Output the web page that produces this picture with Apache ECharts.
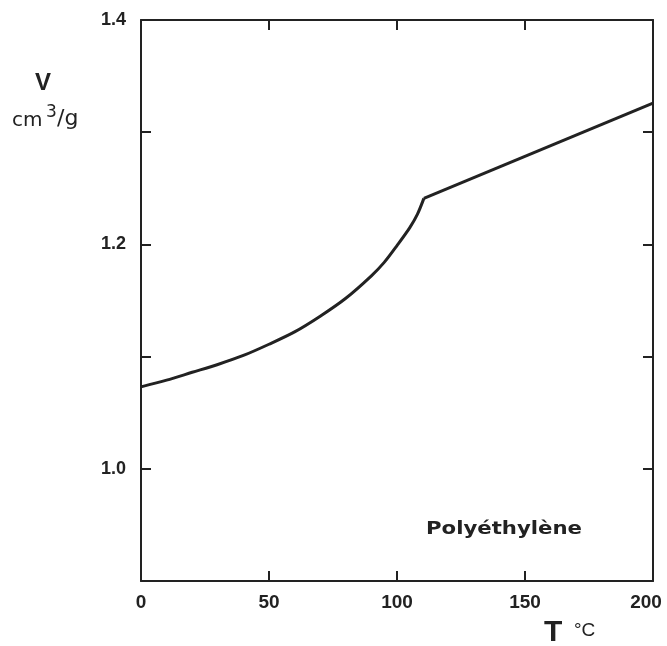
<!DOCTYPE html>
<html lang="fr">
<head>
    <meta charset="UTF-8">
    <title>Polyéthylène</title>
    <style>
        body { margin: 0; background: #fff; }
    </style>
</head>
<body>
    <div id="main" style="width:667px; height:646px;"></div>
    <script src="https://cdn.jsdelivr.net/npm/echarts@6/dist/echarts.min.js"></script>
    <script>
        // courbe : T (°C) et volume spécifique V (cm3/g)
        // partie courbe (solide) jusqu'à la fusion, puis droite (liquide)
        var tSolid = [0, 10, 20, 30, 40, 50, 60, 70, 80, 90, 95, 100, 105, 108, 110.5];
        var vSolid = [1.073, 1.079, 1.086, 1.093, 1.101, 1.111, 1.122, 1.136, 1.152, 1.172, 1.184, 1.199, 1.215, 1.227, 1.241];
        var tMelt = [110.5, 200];
        var vMelt = [1.241, 1.326];
        var xTicks = [0, 50, 100, 150, 200];
        var yLabels = ['1.0', '1.2', '1.4'];

        function pairs(xs, ys) {
            return xs.map(function (t, i) { return [t, ys[i]]; });
        }
        var ink = '#222';
        var font = 'Liberation Sans, Arial, sans-serif';
        var wide = 'DejaVu Sans, sans-serif';

        var myChart = echarts.init(document.getElementById('main'));

        function yFmt(v) {
            var s = v.toFixed(1);
            return yLabels.indexOf(s) >= 0 ? s : '';
        }
        function xFmt(v) {
            if (xTicks.indexOf(v) < 0) return '';
            // le 200 est un peu décalé vers la gauche sur l'original
            return v === 200 ? '{r|200}' : String(v);
        }

        var axisLine = { show: true, onZero: false, lineStyle: { color: ink, width: 2 } };
        var tickIn = { show: true, inside: true, length: 10, lineStyle: { color: ink, width: 2 } };

        myChart.setOption({
            animation: false,
            grid: { left: 141, right: 14, top: 20, bottom: 65 },
            xAxis: [
                {
                    type: 'value', min: 0, max: 200, interval: 50, position: 'bottom',
                    axisLine: axisLine,
                    axisTick: tickIn,
                    splitLine: { show: false },
                    axisLabel: {
                        color: ink, fontWeight: 'bold', fontSize: 19, fontFamily: font, margin: 12,
                        formatter: xFmt,
                        rich: { r: { fontWeight: 'bold', fontSize: 19, fontFamily: font, color: ink, padding: [0, 14, 0, 0] } }
                    }
                },
                {
                    type: 'value', min: 0, max: 200, interval: 50, position: 'top',
                    axisLine: axisLine,
                    axisTick: tickIn,
                    splitLine: { show: false },
                    axisLabel: { show: false }
                }
            ],
            yAxis: [
                {
                    type: 'value', min: 0.9, max: 1.4, interval: 0.1, position: 'left',
                    axisLine: axisLine,
                    axisTick: tickIn,
                    splitLine: { show: false },
                    axisLabel: {
                        color: ink, fontWeight: 'bold', fontSize: 18, fontFamily: font, margin: 15,
                        formatter: yFmt
                    }
                },
                {
                    type: 'value', min: 0.9, max: 1.4, interval: 0.1, position: 'right',
                    axisLine: axisLine,
                    axisTick: tickIn,
                    splitLine: { show: false },
                    axisLabel: { show: false }
                }
            ],
            graphic: [
                { type: 'text', left: 35, top: 71, style: { text: 'V', fontSize: 24, fontWeight: 'bold', fontFamily: font, fill: ink } },
                { type: 'text', left: 12, top: 111, style: { text: 'cm', fontSize: 20, fontFamily: wide, fill: ink } },
                { type: 'text', left: 46, top: 104, style: { text: '3', fontSize: 17, fontFamily: wide, fill: ink } },
                { type: 'text', left: 57, top: 108, style: { text: '/g', fontSize: 22, fontFamily: wide, fill: ink } },
                { type: 'text', left: 544, top: 618, style: { text: 'T', fontSize: 30, fontWeight: 'bold', fontFamily: font, fill: ink } },
                { type: 'text', left: 574, top: 621, style: { text: '°C', fontSize: 19, fontFamily: font, fill: ink } },
                {
                    type: 'text', x: 426, y: 520, scaleX: 1.18,
                    style: { text: 'Polyéthylène', fontSize: 18, fontWeight: 'bold', fontFamily: wide, fill: ink }
                }
            ],
            series: [
                {
                    type: 'line',
                    data: pairs(tSolid, vSolid),
                    smooth: 0.3,
                    showSymbol: false,
                    lineStyle: { color: ink, width: 3 }
                },
                {
                    type: 'line',
                    data: pairs(tMelt, vMelt),
                    showSymbol: false,
                    lineStyle: { color: ink, width: 3 }
                }
            ]
        });
    </script>
</body>
</html>
